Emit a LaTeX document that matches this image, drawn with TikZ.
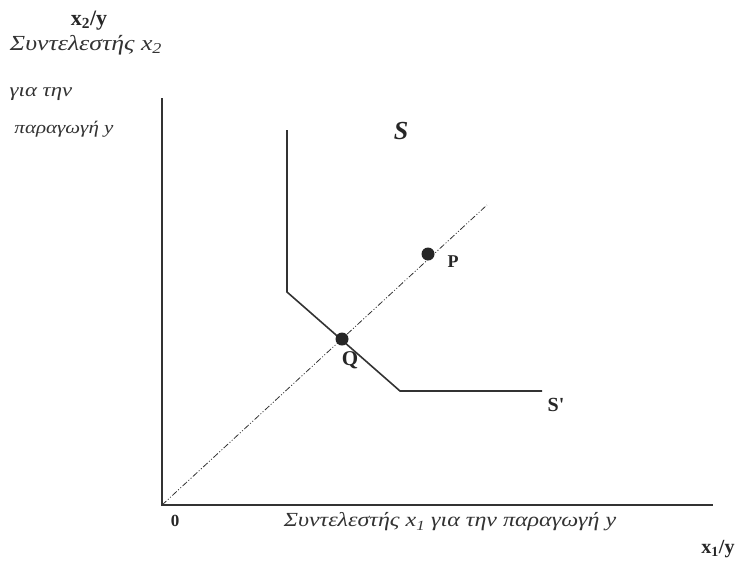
\documentclass[tikz,border=0pt]{standalone}
\usepackage{fontspec}
\setmainfont{Liberation Serif}
\newfontfamily\widegr[FakeStretch=1.2]{Liberation Serif}
\begin{document}
\begin{tikzpicture}[x=1pt,y=-1pt,
  axis/.style={line width=1.5pt,draw=black!80},
  iso/.style={line width=1.6pt,draw=black!80},
  ray/.style={line width=0.8pt,draw=black!80,dash pattern=on 6pt off 2pt on 1pt off 2pt on 1pt off 2pt},
  dot/.style={circle,fill=black!85,inner sep=0pt,minimum size=13pt},
  lbl/.style={text=black!80,inner sep=0pt},
  blbl/.style={text=black!85,inner sep=0pt}]
\useasboundingbox (0,0) rectangle (737,563);
\coordinate (O) at (162,505);
\coordinate (ytop) at (162,98);
\coordinate (xend) at (713,505);
\coordinate (rayend) at (487,205);
\coordinate (s1) at (287,130);
\coordinate (s2) at (287,292);
\coordinate (s3) at (400,391);
\coordinate (s4) at (542,391);
\draw[axis] (ytop) -- (O) -- (xend);
\draw[ray] (O) -- (rayend);
\draw[iso] (s1) -- (s2) -- (s3) -- (s4);
\node[dot] (Q) at (342,339) {};
\node[dot] (P) at (428,254) {};
\node[blbl,font=\fontsize{18}{20}\selectfont\bfseries] (Pl) at (453,262) {P};
\node[blbl,font=\fontsize{21}{23}\selectfont\bfseries] (Ql) at (350,360) {Q};
\node[blbl,font=\fontsize{20}{22}\selectfont\bfseries] (Sl) at (556,405) {S\textquotesingle};
\node[blbl,font=\fontsize{26}{28}\selectfont\bfseries\itshape] (S) at (401,131) {S};
\node[blbl,font=\fontsize{17}{19}\selectfont\bfseries] (zero) at (175,521) {0};
\node[blbl,font=\fontsize{22}{24}\selectfont\bfseries] (x2y) at (89,21) {x\textsubscript{2}/y};
\node[blbl,font=\fontsize{20}{22}\selectfont\bfseries] (x1y) at (718,549) {x\textsubscript{1}/y};
\node[lbl,font=\widegr\fontsize{21.5}{24}\selectfont\itshape] (t1) at (86,45) {Συντελεστής x\textsubscript{2}};
\node[lbl,font=\widegr\fontsize{19}{22}\selectfont\itshape] (t2) at (41,94) {για την};
\node[lbl,font=\widegr\fontsize{17.5}{20}\selectfont\itshape] (t3) at (64,129) {παραγωγή y};
\node[lbl,font=\widegr\fontsize{20}{22}\selectfont\itshape] (t4) at (450,522) {Συντελεστής x\textsubscript{1} για την παραγωγή y};
\end{tikzpicture}
\end{document}
